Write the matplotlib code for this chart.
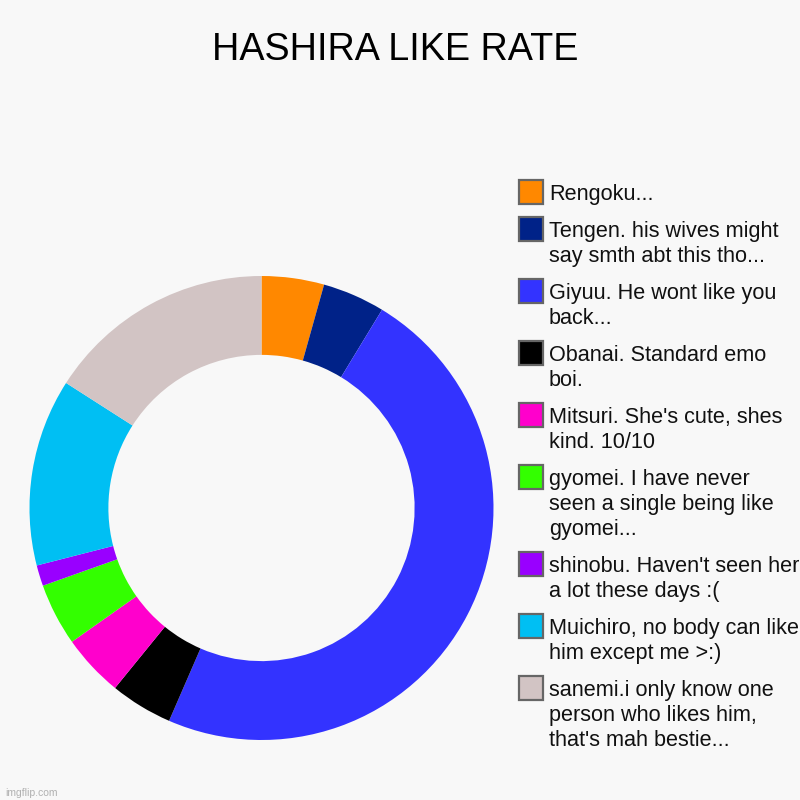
import matplotlib.pyplot as plt
from matplotlib.patches import Rectangle

labels = [
    "Rengoku...",
    "Tengen. his wives might\nsay smth abt this tho...",
    "Giyuu. He wont like you\nback...",
    "Obanai. Standard emo\nboi.",
    "Mitsuri. She's cute, shes\nkind. 10/10",
    "gyomei. I have never\nseen a single being like\ngyomei...",
    "shinobu. Haven't seen her\na lot these days :(",
    "Muichiro, no body can like\nhim except me >:)",
    "sanemi.i only know one\nperson who likes him,\nthat's mah bestie...",
]
values = [3, 3, 33, 3, 3, 3, 1, 9, 11]
colors = ["#ff8800", "#002288", "#3333ff", "#000000", "#ff00cc",
          "#33ff00", "#9900ff", "#00bff3", "#d2c4c4"]
title = "HASHIRA LIKE RATE"

W = H = 800
bg = "#f8f8f8"
plt.rcParams['font.family'] = ['Liberation Sans', 'DejaVu Sans']

fig = plt.figure(figsize=(8, 8), dpi=100, facecolor=bg)

# donut
cx, cy, r = 261.5, 508, 232
ax = fig.add_axes([(cx - r) / W, (H - cy - r) / H, 2 * r / W, 2 * r / H])
ax.set_facecolor(bg)
ax.pie(values, colors=colors, startangle=90, counterclock=False,
       wedgeprops=dict(width=0.34, linewidth=0))
ax.set_xlim(-1, 1)
ax.set_ylim(-1, 1)
ax.set_aspect('equal')
ax.axis('off')

fig.text(395.5 / W, 1 - 59.5 / H, title, ha='center', va='baseline',
         fontsize=27.2, color='#000000')

# legend, drawn by hand (pixel layout)
base = 200
for lab, col in zip(labels, colors):
    fig.patches.append(Rectangle((519 / W, 1 - (base + 4) / H), 24 / W, 24 / H,
                                 transform=fig.transFigure, facecolor=col,
                                 edgecolor='#666666', linewidth=1.6))
    lines = lab.split("\n")
    for i, ln in enumerate(lines):
        fig.text(549 / W, 1 - (base + 25 * i) / H, ln, ha='left', va='baseline',
                 fontsize=15.6, color='#111111')
    base += 25 * (len(lines) - 1) + 37

fig.text(5 / W, 1 - 795.5 / H, "imgflip.com", ha='left', va='baseline',
         fontsize=7.5, color='#b0b0b0')

fig.savefig("out.png", dpi=100, facecolor=bg)
